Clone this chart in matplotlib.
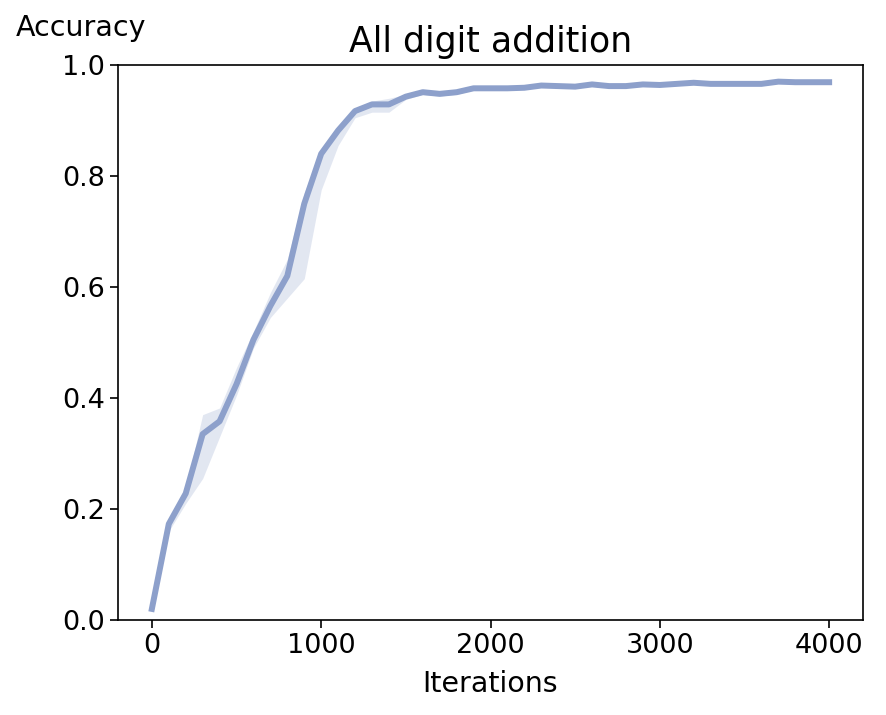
import matplotlib
matplotlib.use("Agg")
import matplotlib.pyplot as plt
import numpy as np

iterations = list(range(0, 4001, 100))
mean_acc = [0.020, 0.173, 0.228, 0.335, 0.358, 0.425, 0.505, 0.566, 0.620, 0.750,
            0.840, 0.882, 0.917, 0.929, 0.929, 0.943, 0.951, 0.948, 0.951, 0.958,
            0.958, 0.958, 0.959, 0.963, 0.962, 0.961, 0.965, 0.962, 0.962, 0.965,
            0.964, 0.966, 0.968, 0.966, 0.966, 0.966, 0.966, 0.970, 0.969, 0.969,
            0.969]
lower_acc = [0.018, 0.160, 0.210, 0.255, 0.330, 0.405, 0.490, 0.545, 0.580, 0.615,
             0.775, 0.855, 0.905, 0.915, 0.915, 0.938, 0.947, 0.944, 0.947, 0.955,
             0.955, 0.955, 0.956, 0.960, 0.959, 0.958, 0.962, 0.959, 0.959, 0.962,
             0.961, 0.963, 0.965, 0.963, 0.963, 0.963, 0.963, 0.967, 0.966, 0.966,
             0.966]
upper_acc = [0.022, 0.180, 0.238, 0.370, 0.382, 0.455, 0.520, 0.590, 0.650, 0.770,
             0.850, 0.890, 0.922, 0.935, 0.940, 0.947, 0.954, 0.952, 0.954, 0.961,
             0.961, 0.961, 0.962, 0.966, 0.965, 0.964, 0.968, 0.965, 0.965, 0.968,
             0.967, 0.969, 0.971, 0.969, 0.969, 0.969, 0.969, 0.973, 0.972, 0.972,
             0.972]

color = "#8da0cb"

fig = plt.figure(figsize=(8.86, 7.15), dpi=100)
ax = fig.add_axes([118/886, 1-620/715, (863-118)/886, (620-65)/715])
ax.fill_between(iterations, lower_acc, upper_acc, color=color, alpha=0.25, linewidth=0)
ax.plot(iterations, mean_acc, color=color, linewidth=4.3)
ax.set_xlim(-200, 4200)
ax.set_ylim(0, 1.0)
ax.set_xticks([0, 1000, 2000, 3000, 4000])
ax.set_yticks([0.0, 0.2, 0.4, 0.6, 0.8, 1.0])
ax.tick_params(labelsize=19.5, length=6, width=1.2)
for s in ax.spines.values():
    s.set_linewidth(1.2)
ax.set_title("All digit addition", fontsize=25, pad=9)
ax.set_xlabel("Iterations", fontsize=20.5, labelpad=8)
fig.text(81/886, 1-28/715, "Accuracy", fontsize=20.5, ha="center", va="center")
fig.savefig("out.png", dpi=100)
